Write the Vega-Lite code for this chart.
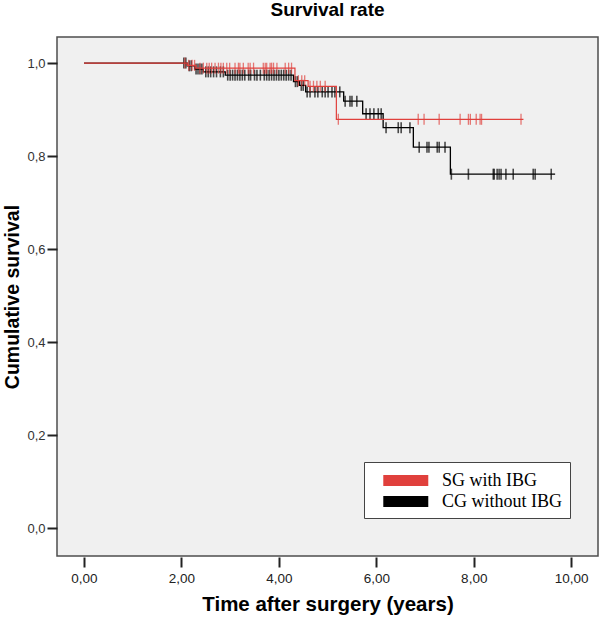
{
  "$schema": "https://vega.github.io/schema/vega-lite/v6.json",
  "autosize": {"type": "none"},
  "padding": {"left": 57, "top": 37, "right": 2, "bottom": 63},
  "width": 541,
  "height": 519,
  "background": "white",
  "title": {"text": "Survival rate", "fontSize": 19, "font": "Liberation Sans", "fontWeight": "bold", "color": "#000000", "offset": 17, "anchor": "middle"},
  "datasets": {
    "steps": [
      {"g": "CG without IBG", "t": 0, "s": 1.0},
      {"g": "CG without IBG", "t": 2.12, "s": 0.994},
      {"g": "CG without IBG", "t": 2.27, "s": 0.987},
      {"g": "CG without IBG", "t": 2.45, "s": 0.981},
      {"g": "CG without IBG", "t": 2.9, "s": 0.974},
      {"g": "CG without IBG", "t": 4.3, "s": 0.96},
      {"g": "CG without IBG", "t": 4.42, "s": 0.952},
      {"g": "CG without IBG", "t": 4.55, "s": 0.938},
      {"g": "CG without IBG", "t": 5.33, "s": 0.918},
      {"g": "CG without IBG", "t": 5.72, "s": 0.891},
      {"g": "CG without IBG", "t": 6.14, "s": 0.861},
      {"g": "CG without IBG", "t": 6.76, "s": 0.819},
      {"g": "CG without IBG", "t": 7.52, "s": 0.761},
      {"g": "CG without IBG", "t": 9.67, "s": 0.761},
      {"g": "SG with IBG", "t": 0, "s": 1.0},
      {"g": "SG with IBG", "t": 2.12, "s": 0.995},
      {"g": "SG with IBG", "t": 2.3, "s": 0.989},
      {"g": "SG with IBG", "t": 4.33, "s": 0.962},
      {"g": "SG with IBG", "t": 4.6, "s": 0.95},
      {"g": "SG with IBG", "t": 5.18, "s": 0.879},
      {"g": "SG with IBG", "t": 9.02, "s": 0.879}
    ],
    "censors": [
      {"g": "CG without IBG", "t": 2.05, "s": 1.0},
      {"g": "CG without IBG", "t": 2.09, "s": 1.0},
      {"g": "CG without IBG", "t": 2.16, "s": 0.994},
      {"g": "CG without IBG", "t": 2.2, "s": 0.994},
      {"g": "CG without IBG", "t": 2.3, "s": 0.987},
      {"g": "CG without IBG", "t": 2.34, "s": 0.987},
      {"g": "CG without IBG", "t": 2.38, "s": 0.987},
      {"g": "CG without IBG", "t": 2.42, "s": 0.987},
      {"g": "CG without IBG", "t": 2.5, "s": 0.981},
      {"g": "CG without IBG", "t": 2.55, "s": 0.981},
      {"g": "CG without IBG", "t": 2.6, "s": 0.981},
      {"g": "CG without IBG", "t": 2.66, "s": 0.981},
      {"g": "CG without IBG", "t": 2.72, "s": 0.981},
      {"g": "CG without IBG", "t": 2.8, "s": 0.981},
      {"g": "CG without IBG", "t": 2.86, "s": 0.981},
      {"g": "CG without IBG", "t": 2.95, "s": 0.974},
      {"g": "CG without IBG", "t": 3.0, "s": 0.974},
      {"g": "CG without IBG", "t": 3.05, "s": 0.974},
      {"g": "CG without IBG", "t": 3.1, "s": 0.974},
      {"g": "CG without IBG", "t": 3.15, "s": 0.974},
      {"g": "CG without IBG", "t": 3.2, "s": 0.974},
      {"g": "CG without IBG", "t": 3.25, "s": 0.974},
      {"g": "CG without IBG", "t": 3.3, "s": 0.974},
      {"g": "CG without IBG", "t": 3.38, "s": 0.974},
      {"g": "CG without IBG", "t": 3.42, "s": 0.974},
      {"g": "CG without IBG", "t": 3.5, "s": 0.974},
      {"g": "CG without IBG", "t": 3.55, "s": 0.974},
      {"g": "CG without IBG", "t": 3.62, "s": 0.974},
      {"g": "CG without IBG", "t": 3.7, "s": 0.974},
      {"g": "CG without IBG", "t": 3.75, "s": 0.974},
      {"g": "CG without IBG", "t": 3.8, "s": 0.974},
      {"g": "CG without IBG", "t": 3.85, "s": 0.974},
      {"g": "CG without IBG", "t": 3.9, "s": 0.974},
      {"g": "CG without IBG", "t": 3.95, "s": 0.974},
      {"g": "CG without IBG", "t": 4.0, "s": 0.974},
      {"g": "CG without IBG", "t": 4.05, "s": 0.974},
      {"g": "CG without IBG", "t": 4.1, "s": 0.974},
      {"g": "CG without IBG", "t": 4.15, "s": 0.974},
      {"g": "CG without IBG", "t": 4.2, "s": 0.974},
      {"g": "CG without IBG", "t": 4.25, "s": 0.974},
      {"g": "CG without IBG", "t": 4.34, "s": 0.96},
      {"g": "CG without IBG", "t": 4.38, "s": 0.96},
      {"g": "CG without IBG", "t": 4.46, "s": 0.952},
      {"g": "CG without IBG", "t": 4.5, "s": 0.952},
      {"g": "CG without IBG", "t": 4.58, "s": 0.938},
      {"g": "CG without IBG", "t": 4.64, "s": 0.938},
      {"g": "CG without IBG", "t": 4.74, "s": 0.938},
      {"g": "CG without IBG", "t": 4.8, "s": 0.938},
      {"g": "CG without IBG", "t": 4.89, "s": 0.938},
      {"g": "CG without IBG", "t": 4.95, "s": 0.938},
      {"g": "CG without IBG", "t": 5.01, "s": 0.938},
      {"g": "CG without IBG", "t": 5.09, "s": 0.938},
      {"g": "CG without IBG", "t": 5.15, "s": 0.938},
      {"g": "CG without IBG", "t": 5.25, "s": 0.938},
      {"g": "CG without IBG", "t": 5.36, "s": 0.918},
      {"g": "CG without IBG", "t": 5.46, "s": 0.918},
      {"g": "CG without IBG", "t": 5.5, "s": 0.918},
      {"g": "CG without IBG", "t": 5.6, "s": 0.918},
      {"g": "CG without IBG", "t": 5.79, "s": 0.891},
      {"g": "CG without IBG", "t": 5.87, "s": 0.891},
      {"g": "CG without IBG", "t": 5.95, "s": 0.891},
      {"g": "CG without IBG", "t": 6.04, "s": 0.891},
      {"g": "CG without IBG", "t": 6.1, "s": 0.891},
      {"g": "CG without IBG", "t": 6.2, "s": 0.861},
      {"g": "CG without IBG", "t": 6.45, "s": 0.861},
      {"g": "CG without IBG", "t": 6.51, "s": 0.861},
      {"g": "CG without IBG", "t": 6.69, "s": 0.861},
      {"g": "CG without IBG", "t": 6.88, "s": 0.819},
      {"g": "CG without IBG", "t": 7.04, "s": 0.819},
      {"g": "CG without IBG", "t": 7.08, "s": 0.819},
      {"g": "CG without IBG", "t": 7.25, "s": 0.819},
      {"g": "CG without IBG", "t": 7.29, "s": 0.819},
      {"g": "CG without IBG", "t": 7.41, "s": 0.819},
      {"g": "CG without IBG", "t": 7.54, "s": 0.761},
      {"g": "CG without IBG", "t": 7.89, "s": 0.761},
      {"g": "CG without IBG", "t": 8.4, "s": 0.761},
      {"g": "CG without IBG", "t": 8.42, "s": 0.761},
      {"g": "CG without IBG", "t": 8.48, "s": 0.761},
      {"g": "CG without IBG", "t": 8.52, "s": 0.761},
      {"g": "CG without IBG", "t": 8.56, "s": 0.761},
      {"g": "CG without IBG", "t": 8.66, "s": 0.761},
      {"g": "CG without IBG", "t": 8.81, "s": 0.761},
      {"g": "CG without IBG", "t": 9.22, "s": 0.761},
      {"g": "CG without IBG", "t": 9.26, "s": 0.761},
      {"g": "CG without IBG", "t": 9.59, "s": 0.761},
      {"g": "SG with IBG", "t": 2.07, "s": 1.0},
      {"g": "SG with IBG", "t": 2.15, "s": 0.995},
      {"g": "SG with IBG", "t": 2.22, "s": 0.995},
      {"g": "SG with IBG", "t": 2.27, "s": 0.995},
      {"g": "SG with IBG", "t": 2.38, "s": 0.989},
      {"g": "SG with IBG", "t": 2.45, "s": 0.989},
      {"g": "SG with IBG", "t": 2.52, "s": 0.989},
      {"g": "SG with IBG", "t": 2.57, "s": 0.989},
      {"g": "SG with IBG", "t": 2.62, "s": 0.989},
      {"g": "SG with IBG", "t": 2.69, "s": 0.989},
      {"g": "SG with IBG", "t": 2.76, "s": 0.989},
      {"g": "SG with IBG", "t": 2.81, "s": 0.989},
      {"g": "SG with IBG", "t": 2.86, "s": 0.989},
      {"g": "SG with IBG", "t": 2.93, "s": 0.989},
      {"g": "SG with IBG", "t": 2.99, "s": 0.989},
      {"g": "SG with IBG", "t": 3.1, "s": 0.989},
      {"g": "SG with IBG", "t": 3.17, "s": 0.989},
      {"g": "SG with IBG", "t": 3.2, "s": 0.989},
      {"g": "SG with IBG", "t": 3.27, "s": 0.989},
      {"g": "SG with IBG", "t": 3.37, "s": 0.989},
      {"g": "SG with IBG", "t": 3.41, "s": 0.989},
      {"g": "SG with IBG", "t": 3.48, "s": 0.989},
      {"g": "SG with IBG", "t": 3.68, "s": 0.989},
      {"g": "SG with IBG", "t": 3.72, "s": 0.989},
      {"g": "SG with IBG", "t": 3.75, "s": 0.989},
      {"g": "SG with IBG", "t": 3.82, "s": 0.989},
      {"g": "SG with IBG", "t": 3.85, "s": 0.989},
      {"g": "SG with IBG", "t": 3.89, "s": 0.989},
      {"g": "SG with IBG", "t": 3.96, "s": 0.989},
      {"g": "SG with IBG", "t": 4.13, "s": 0.989},
      {"g": "SG with IBG", "t": 4.2, "s": 0.989},
      {"g": "SG with IBG", "t": 4.26, "s": 0.989},
      {"g": "SG with IBG", "t": 4.4, "s": 0.962},
      {"g": "SG with IBG", "t": 4.47, "s": 0.962},
      {"g": "SG with IBG", "t": 4.53, "s": 0.962},
      {"g": "SG with IBG", "t": 4.64, "s": 0.95},
      {"g": "SG with IBG", "t": 4.71, "s": 0.95},
      {"g": "SG with IBG", "t": 4.78, "s": 0.95},
      {"g": "SG with IBG", "t": 4.85, "s": 0.95},
      {"g": "SG with IBG", "t": 4.95, "s": 0.95},
      {"g": "SG with IBG", "t": 5.22, "s": 0.879},
      {"g": "SG with IBG", "t": 6.86, "s": 0.879},
      {"g": "SG with IBG", "t": 6.98, "s": 0.879},
      {"g": "SG with IBG", "t": 7.29, "s": 0.879},
      {"g": "SG with IBG", "t": 7.72, "s": 0.879},
      {"g": "SG with IBG", "t": 7.89, "s": 0.879},
      {"g": "SG with IBG", "t": 7.93, "s": 0.879},
      {"g": "SG with IBG", "t": 8.05, "s": 0.879},
      {"g": "SG with IBG", "t": 8.13, "s": 0.879},
      {"g": "SG with IBG", "t": 8.16, "s": 0.879},
      {"g": "SG with IBG", "t": 8.97, "s": 0.879}
    ]
  },
  "encoding": {
    "x": {
      "field": "t", "type": "quantitative",
      "scale": {"domain": [-0.554, 10.55], "nice": false, "zero": false},
      "axis": {
        "values": [0, 2, 4, 6, 8, 10],
        "labelExpr": "replace(format(datum.value, '.2f'), '.', ',')",
        "title": "Time after surgery (years)",
        "offset": 1, "tickSize": 10, "tickWidth": 2, "tickColor": "#222222",
        "domain": false, "grid": false,
        "labelFont": "Liberation Sans", "labelFontSize": 13.5, "labelColor": "#222222", "labelPadding": 4,
        "titleFont": "Liberation Sans", "titleFontSize": 20.5, "titleFontWeight": "bold", "titleColor": "#000000", "titlePadding": 10
      }
    },
    "y": {
      "field": "s", "type": "quantitative",
      "scale": {"domain": [-0.06, 1.056], "nice": false, "zero": false},
      "axis": {
        "values": [0, 0.2, 0.4, 0.6, 0.8, 1.0],
        "labelExpr": "replace(format(datum.value, '.1f'), '.', ',')",
        "title": "Cumulative survival",
        "tickSize": 10, "tickWidth": 2, "tickColor": "#222222",
        "domain": false, "grid": false,
        "labelFont": "Liberation Sans", "labelFontSize": 13, "labelColor": "#333333", "labelPadding": 2,
        "titleFont": "Liberation Sans", "titleFontSize": 19.5, "titleFontWeight": "bold", "titleColor": "#000000", "titlePadding": 4
      }
    },
    "color": {
      "field": "g", "type": "nominal",
      "scale": {"domain": ["SG with IBG", "CG without IBG"], "range": ["#e0403c", "#000000"]},
      "legend": {
        "title": null,
        "orient": "none", "legendX": 307, "legendY": 425,
        "padding": 7, "strokeColor": "#444444", "fillColor": "#ffffff", "cornerRadius": 0,
        "labelFont": "Liberation Serif", "labelFontSize": 18, "labelColor": "#000000", "labelOffset": 48,
        "rowPadding": 0,
        "symbolType": "M0.07,-0.5H4.07V0.5H0.07Z", "symbolSize": 506, "symbolStrokeWidth": 0, "symbolOpacity": 1
      }
    }
  },
  "layer": [
    {
      "data": {"name": "steps"},
      "transform": [{"filter": "datum.g == 'CG without IBG'"}],
      "mark": {"type": "line", "interpolate": "step-after", "strokeWidth": 1.3}
    },
    {
      "data": {"name": "censors"},
      "transform": [{"filter": "datum.g == 'CG without IBG'"}],
      "mark": {"type": "tick", "orient": "vertical", "size": 11, "thickness": 1.6}
    },
    {
      "data": {"name": "steps"},
      "transform": [{"filter": "datum.g == 'SG with IBG'"}],
      "mark": {"type": "line", "interpolate": "step-after", "strokeWidth": 1.2}
    },
    {
      "data": {"name": "censors"},
      "transform": [{"filter": "datum.g == 'SG with IBG'"}],
      "mark": {"type": "tick", "orient": "vertical", "size": 11, "thickness": 1.3}
    }
  ],
  "config": {
    "view": {"stroke": "#4d4d4d", "strokeWidth": 1.5, "fill": "#f0f0f0"}
  }
}
